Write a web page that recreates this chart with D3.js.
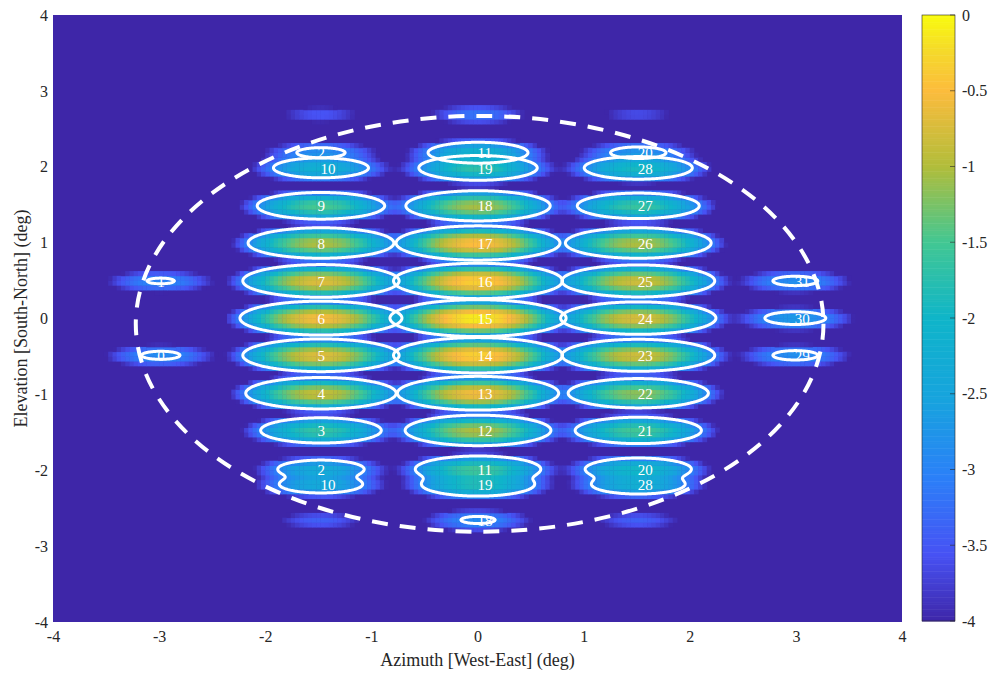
<!DOCTYPE html>
<html>
<head>
<meta charset="utf-8">
<script src="https://cdn.jsdelivr.net/npm/d3@7"></script>
<style>
  body { margin: 0; background: #fff; }
  text { font-family: "Liberation Serif", "DejaVu Serif", serif; }
</style>
</head>
<body>
<script>
/* beams: label, pointing (deg) and peak level */
var beamLabel = ["0", "1",
  "2", "3", "4", "5", "6", "7", "8", "9", "10", "10", "2", "", "",
  "11", "12", "13", "14", "15", "16", "17", "18", "19", "19", "11", "18", "",
  "20", "21", "22", "23", "24", "25", "26", "27", "28", "28", "20", "", "",
  "29", "30", "31"]
var beamAz = [-2.99, -2.99,
  -1.48, -1.48, -1.48, -1.48, -1.48, -1.48, -1.48, -1.48, -1.48, -1.48, -1.48, -1.48, -1.48,
  0, 0, 0, 0, 0, 0, 0, 0, 0, 0, 0, 0, 0,
  1.51, 1.51, 1.51, 1.51, 1.51, 1.51, 1.51, 1.51, 1.51, 1.51, 1.51, 1.51, 1.51,
  2.99, 2.99, 2.99]
var beamEl = [-0.49, 0.49,
  -1.99, -1.48, -0.99, -0.49, 0, 0.49, 0.99, 1.48, 1.98, -2.19, 2.18, 2.69, -2.66,
  -1.99, -1.48, -0.99, -0.49, 0, 0.49, 0.99, 1.48, 1.98, -2.19, 2.18, -2.66, 2.69,
  -1.99, -1.48, -0.99, -0.49, 0, 0.49, 0.99, 1.48, 1.98, -2.19, 2.18, 2.69, -2.66,
  -0.49, 0, 0.49]
var beamPeak = [-2.86, -2.93,
  -2.3, -1.63, -0.87, -0.7, -0.53, -0.7, -1.0, -1.47, -2.15, -2.35, -2.78, -3.5, -3.4,
  -1.52, -1.0, -0.55, -0.31, -0.08, -0.31, -0.47, -1.04, -1.68, -1.8, -2.06, -2.89, -3.15,
  -1.94, -1.5, -1.15, -0.8, -0.73, -0.8, -1.0, -1.6, -1.9, -2.18, -2.71, -3.6, -3.4,
  -2.81, -2.65, -2.81]
// beams sharing a contour
var beamGroup = ["a0", "a1",
  "L2", "L3", "L4", "L5", "L6", "L7", "L8", "L9", "L10", "L2", "L2t", "Lf1", "Lf2",
  "C11", "C12", "C13", "C14", "C15", "C16", "C17", "C18", "C19", "C11", "C11t", "C18b", "Cf",
  "R20", "R21", "R22", "R23", "R24", "R25", "R26", "R27", "R28", "R20", "R20t", "Rf1", "Rf2",
  "b29", "b30", "b31"]

var kAz = 4.24, kEl = 49.5     // beam roll-off per deg^2
var contourLevel = -3
var coverCenter = [0.02, -0.07], coverRadius = [3.24, 2.74]

var xTicks = [-4, -3, -2, -1, 0, 1, 2, 3, 4]
var yTicks = [-4, -3, -2, -1, 0, 1, 2, 3, 4]
var cbTicks = [0, -0.5, -1, -1.5, -2, -2.5, -3, -3.5, -4]

var parulaT = [0, 0.111, 0.238, 0.365, 0.5, 0.625, 0.75, 0.875, 0.94, 1]
var parulaHex = ["#3e26a8", "#4752f4", "#2b80f8", "#17a3de", "#0fb5c9",
                 "#42c793", "#b1bd3b", "#fcbc3d", "#f5d92b", "#f9fb0e"]

var x = d3.scaleLinear().domain([-4, 4]).range([53, 902])
var y = d3.scaleLinear().domain([-4, 4]).range([622, 15])
var cb = d3.scaleLinear().domain([-4, 0]).range([621, 15])
var color = d3.scaleLinear()
  .domain(parulaT.map(function(t) { return -4 + 4 * t }))
  .range(parulaHex)
  .interpolate(d3.interpolateRgb)
  .clamp(true)

function field(az, el, idx) {
  var s = 0
  idx.forEach(function(i) {
    var dx = az - beamAz[i], dy = el - beamEl[i]
    var v = beamPeak[i] - kAz * dx * dx - kEl * dy * dy
    if (v > -9) s += Math.pow(10, v)
  })
  return s > 0 ? Math.log10(s) : -99
}

var svg = d3.select("body").append("svg")
  .attr("width", 994).attr("height", 673)

/* heat map */
var all = d3.range(beamLabel.length)
var hx = 0.04, hy = 0.0625
var cells = []
for (var i = 0; i < 200; i++) {
  for (var j = 0; j < 128; j++) {
    var a0 = -4 + i * hx, e0 = -4 + j * hy
    var v = field(a0 + hx / 2, e0 + hy / 2, all)
    if (v > -4) cells.push({a: a0, e: e0, v: Math.min(v, 0)})
  }
}

svg.append("rect")
  .attr("x", x(-4)).attr("y", y(4))
  .attr("width", x(4) - x(-4)).attr("height", y(-4) - y(4))
  .attr("fill", color(-4))

svg.append("g").selectAll("rect")
  .data(cells)
  .enter().append("rect")
  .attr("x", function(d) { return x(d.a) })
  .attr("y", function(d) { return y(d.e + hy) })
  .attr("width", x(hx) - x(0) + 0.4)
  .attr("height", y(0) - y(hy) + 0.4)
  .attr("fill", function(d) { return color(d.v) })

/* beam numbers */
svg.append("g").selectAll("text")
  .data(all.filter(function(i) { return beamLabel[i] != "" }))
  .enter().append("text")
  .attr("x", function(i) { return x(beamAz[i]) + (beamLabel[i].length > 1 ? 0 : -3) })
  .attr("y", function(i) { return y(beamEl[i]) })
  .attr("dy", "0.35em")
  .attr("fill", "#fff")
  .style("font-size", "15px")
  .text(function(i) { return beamLabel[i] })

/* contours, one per beam (or pair) */
var groups = Array.from(new Set(beamGroup))
var cg = svg.append("g")
var h = 0.01
groups.forEach(function(g) {
  var idx = all.filter(function(i) { return beamGroup[i] == g })
  if (d3.max(idx, function(i) { return beamPeak[i] }) <= contourLevel) return
  var azMin = d3.min(idx, function(i) { return beamAz[i] }) - 1.1
  var azMax = d3.max(idx, function(i) { return beamAz[i] }) + 1.1
  var elMin = d3.min(idx, function(i) { return beamEl[i] }) - 0.4
  var elMax = d3.max(idx, function(i) { return beamEl[i] }) + 0.4
  var n = Math.ceil((azMax - azMin) / h) + 1, m = Math.ceil((elMax - elMin) / h) + 1
  var vals = new Array(n * m)
  for (var q = 0; q < m; q++)
    for (var p = 0; p < n; p++)
      vals[q * n + p] = field(azMin + p * h, elMin + q * h, idx)
  var path = d3.geoPath(d3.geoTransform({
    point: function(px, py) { this.stream.point(x(azMin + px * h), y(elMin + py * h)) }
  }))
  cg.selectAll(null)
    .data(d3.contours().size([n, m]).thresholds([contourLevel])(vals))
    .enter().append("path")
    .attr("d", path)
    .attr("fill", "none")
    .attr("stroke", "#fff")
    .attr("stroke-width", 3)
})

/* coverage ellipse */
svg.append("ellipse")
  .attr("cx", x(coverCenter[0])).attr("cy", y(coverCenter[1]))
  .attr("rx", x(coverRadius[0]) - x(0)).attr("ry", y(0) - y(coverRadius[1]))
  .attr("fill", "none")
  .attr("stroke", "#fff")
  .attr("stroke-width", 4)
  .attr("stroke-dasharray", "16,12")

/* axes */
var xAxis = svg.append("g")
  .attr("transform", "translate(0," + y(-4) + ")")
  .call(d3.axisBottom(x).tickValues(xTicks).tickSize(0).tickPadding(9)
    .tickFormat(function(d) { return String(d) }))
var yAxis = svg.append("g")
  .attr("transform", "translate(" + x(-4) + ",0)")
  .call(d3.axisLeft(y).tickValues(yTicks).tickSize(0).tickPadding(5)
    .tickFormat(function(d) { return String(d) }))
;[xAxis, yAxis].forEach(function(ax) {
  ax.select(".domain").remove()
  ax.selectAll("text").style("font-size", "16px").attr("fill", "#262626")
    .style("font-family", '"Liberation Serif", serif')
})

svg.append("text")
  .attr("x", x(0)).attr("y", 666)
  .attr("text-anchor", "middle")
  .attr("fill", "#262626")
  .style("font-size", "18px")
  .text("Azimuth [West-East] (deg)")

svg.append("text")
  .attr("transform", "translate(27," + y(0) + ") rotate(-90)")
  .attr("text-anchor", "middle")
  .attr("fill", "#262626")
  .style("font-size", "18px")
  .text("Elevation [South-North] (deg)")

/* colour bar */
var cbX = 922, cbW = 33
var steps = d3.range(0, 256).map(function(k) { return -4 + 4 * k / 256 })
svg.append("g").selectAll("rect")
  .data(steps)
  .enter().append("rect")
  .attr("x", cbX)
  .attr("y", function(d) { return cb(d + 4 / 256) })
  .attr("width", cbW)
  .attr("height", cb(0) - cb(4 / 256) + 0.5)
  .attr("fill", function(d) { return color(d + 2 / 256) })

svg.append("rect")
  .attr("x", cbX).attr("y", cb(0))
  .attr("width", cbW).attr("height", cb(-4) - cb(0))
  .attr("fill", "none").attr("stroke", "#262626").attr("stroke-width", 0.6)

svg.append("g").selectAll("line")
  .data(cbTicks)
  .enter().append("line")
  .attr("x1", cbX + cbW).attr("x2", cbX + cbW - 5)
  .attr("y1", function(d) { return cb(d) }).attr("y2", function(d) { return cb(d) })
  .attr("stroke", "#262626").attr("stroke-width", 0.6)

var cAxis = svg.append("g")
  .attr("transform", "translate(" + (cbX + cbW) + ",0)")
  .call(d3.axisRight(cb).tickValues(cbTicks).tickSize(0).tickPadding(7)
    .tickFormat(function(d) { return String(d) }))
cAxis.select(".domain").remove()
cAxis.selectAll("text").style("font-size", "16px").attr("fill", "#262626")
  .style("font-family", '"Liberation Serif", serif')
</script>
</body>
</html>
